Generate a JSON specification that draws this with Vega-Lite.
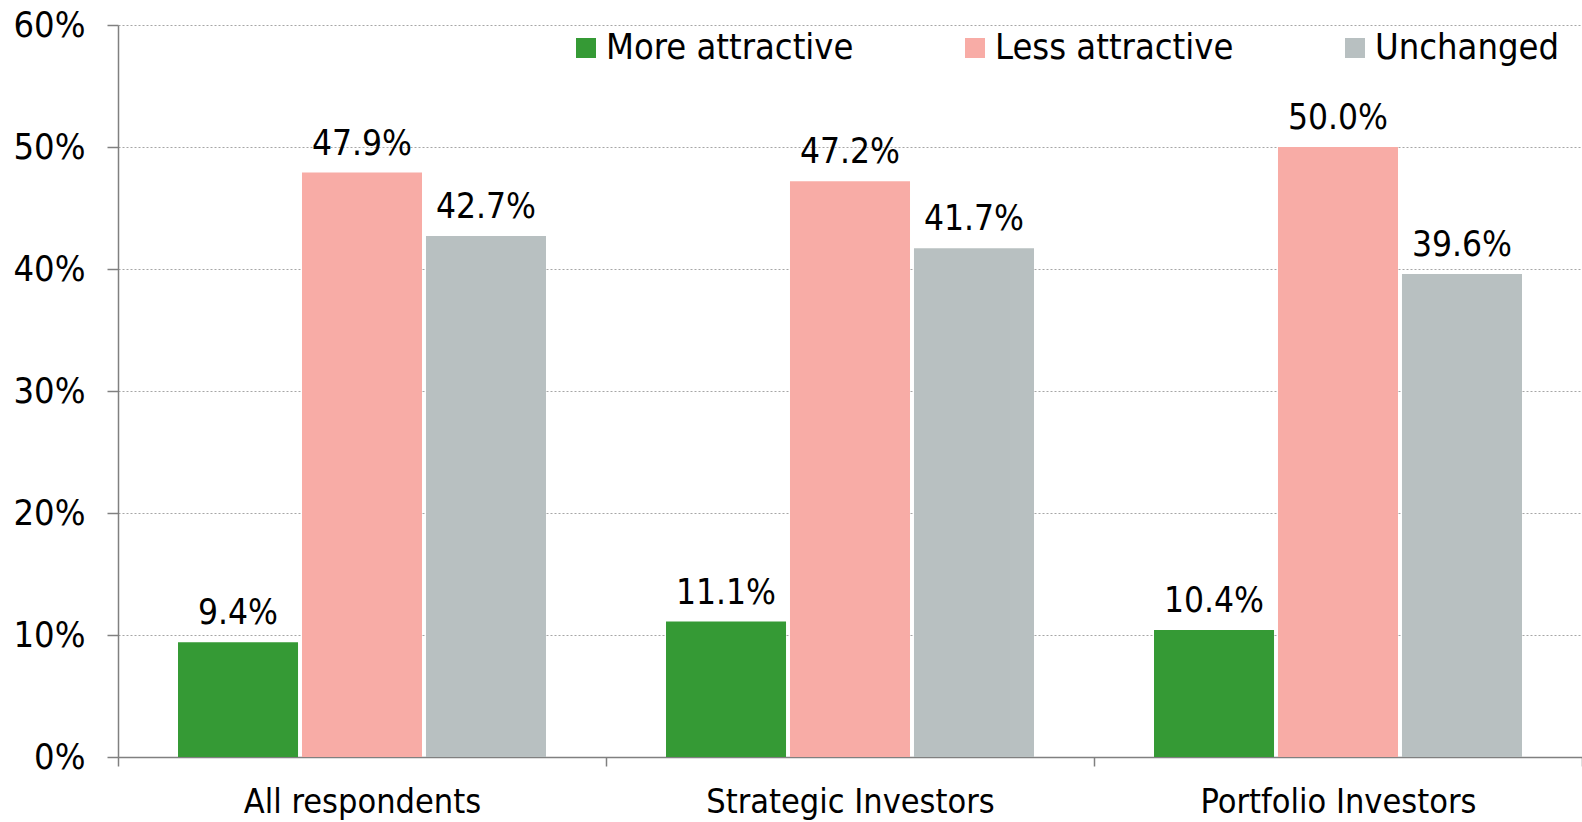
{
  "$schema": "https://vega.github.io/schema/vega-lite/v6.json",
  "width": 1464,
  "height": 732,
  "autosize": {"type": "none"},
  "padding": {"left": 118, "top": 25, "right": 0, "bottom": 65},
  "background": "white",
  "config": {"font": "DejaVu Sans Condensed", "view": {"stroke": null}},
  "data": {
    "values": [
      {"group": "All respondents", "series": "More attractive", "value": 0.094},
      {"group": "All respondents", "series": "Less attractive", "value": 0.479},
      {"group": "All respondents", "series": "Unchanged", "value": 0.427},
      {"group": "Strategic Investors", "series": "More attractive", "value": 0.111},
      {"group": "Strategic Investors", "series": "Less attractive", "value": 0.472},
      {"group": "Strategic Investors", "series": "Unchanged", "value": 0.417},
      {"group": "Portfolio Investors", "series": "More attractive", "value": 0.104},
      {"group": "Portfolio Investors", "series": "Less attractive", "value": 0.5},
      {"group": "Portfolio Investors", "series": "Unchanged", "value": 0.396}
    ]
  },
  "encoding": {
    "x": {
      "field": "group",
      "type": "nominal",
      "sort": ["All respondents", "Strategic Investors", "Portfolio Investors"],
      "scale": {"paddingInner": 0, "paddingOuter": 0},
      "axis": {
        "title": null,
        "labelAngle": 0,
        "labelLimit": 0,
        "tickBand": "extent",
        "labelFontSize": 34,
        "labelColor": "black",
        "labelPadding": 19,
        "tickSize": 9,
        "tickColor": "#808080",
        "tickWidth": 1.5,
        "domainColor": "#808080",
        "domainWidth": 1.5,
        "grid": false
      }
    },
    "xOffset": {
      "field": "series",
      "sort": ["More attractive", "Less attractive", "Unchanged"],
      "scale": {"paddingInner": 0.032, "paddingOuter": 0.484}
    },
    "y": {
      "field": "value",
      "type": "quantitative",
      "scale": {"domain": [0, 0.6]},
      "axis": {
        "title": null,
        "values": [0, 0.1, 0.2, 0.3, 0.4, 0.5, 0.6],
        "format": ".0%",
        "labelFontSize": 36,
        "labelColor": "black",
        "labelPadding": 22,
        "labelLimit": 0,
        "tickSize": 11,
        "tickColor": "#808080",
        "tickWidth": 1.5,
        "domainColor": "#808080",
        "domainWidth": 1.5,
        "gridColor": "#a6a6a6",
        "gridDash": [2, 2],
        "gridWidth": 1
      }
    }
  },
  "layer": [
    {
      "mark": {"type": "bar"},
      "encoding": {
        "color": {
          "field": "series",
          "type": "nominal",
          "sort": ["More attractive", "Less attractive", "Unchanged"],
          "scale": {"range": ["#359a35", "#f8aca6", "#b8c0c1"]},
          "legend": {
            "title": null,
            "orient": "none",
            "legendX": 450,
            "legendY": 5,
            "direction": "horizontal",
            "symbolType": "square",
            "symbolSize": 400,
            "symbolStrokeWidth": 0,
            "labelFontSize": 36,
            "labelColor": "black",
            "labelLimit": 0,
            "labelOffset": 2,
            "columnPadding": 103,
            "padding": 0
          }
        }
      }
    },
    {
      "mark": {"type": "text", "baseline": "alphabetic", "dy": -18, "fontSize": 35, "color": "black"},
      "encoding": {"text": {"field": "value", "type": "quantitative", "format": ".1%"}}
    }
  ]
}
